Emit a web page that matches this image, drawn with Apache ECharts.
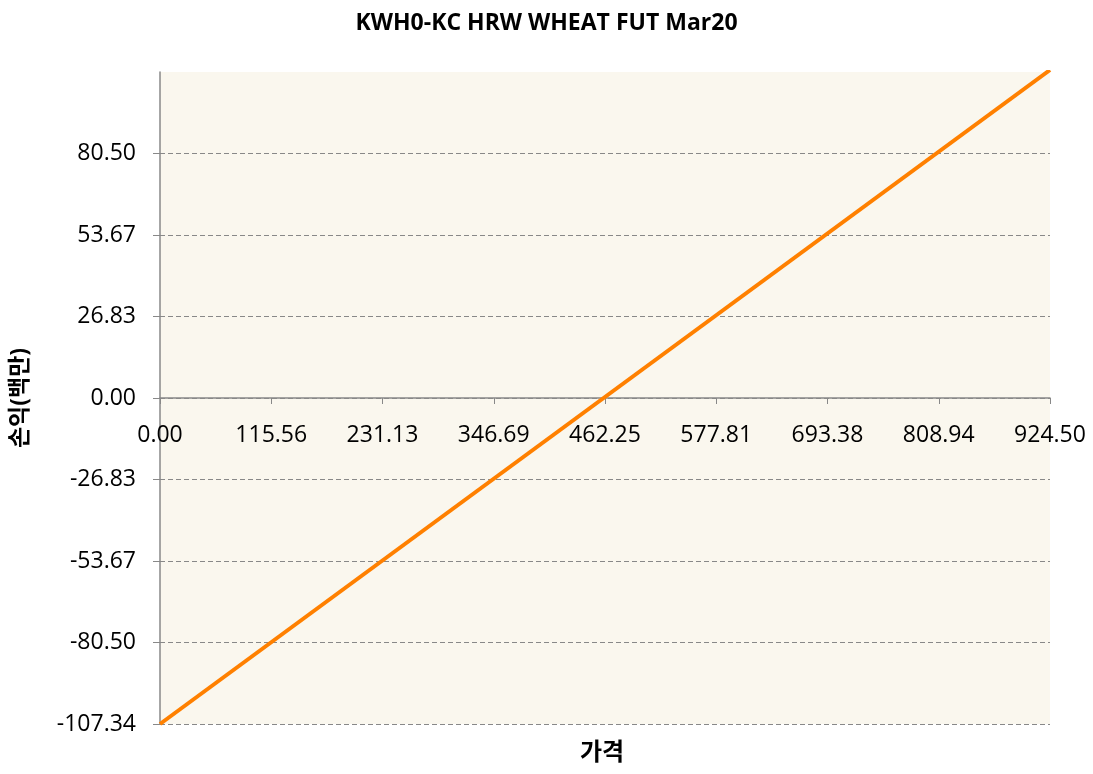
<!DOCTYPE html>
<html>
<head>
<meta charset="utf-8">
<script src="https://cdn.jsdelivr.net/npm/echarts@6/dist/echarts.min.js"></script>
<style>
  html, body { margin: 0; padding: 0; background: #ffffff; }
  #chart { width: 1093px; height: 774px; }
</style>
</head>
<body>
<div id="chart"></div>
<script>
// Profit/loss profile of a futures position over price
const titleText = 'KWH0-KC HRW WHEAT FUT Mar20';
const xName = '가격';
const yName = '손익(백만)';

// price range and tick labels
const xMin = 0, xMax = 924.5, xStep = 115.5625;
const xTickLabels = ['0.00', '115.56', '231.13', '346.69', '462.25', '577.81', '693.38', '808.94', '924.50'];

// P&L range and tick labels (millions)
const yMin = -107.34, yMax = 107.34, yStep = 26.835;
const yTickLabels = ['-107.34', '-80.50', '-53.67', '-26.83', '0.00', '26.83', '53.67', '80.50', ''];

// P&L line endpoints: price, P&L
const prices = [0, 924.5];
const pnl = [-107.34, 108.0];

const FONT = '"Open Sans", "Noto Sans CJK KR", sans-serif';
const GRID = { left: 160, right: 43, top: 72, bottom: 50 };
const plotHeight = 774 - GRID.top - GRID.bottom;
// shift the price axis up so it runs along P&L = 0
const zeroOffset = -plotHeight * (0 - yMin) / (yMax - yMin);

const chart = echarts.init(document.getElementById('chart'), null, { renderer: 'canvas' });

chart.setOption({
  animation: false,
  backgroundColor: '#ffffff',
  title: {
    text: titleText,
    left: 'center',
    top: 7,
    textStyle: { fontFamily: FONT, fontSize: 23, fontWeight: 'bold', color: '#000' }
  },
  grid: Object.assign({
    show: true, backgroundColor: '#FAF7EE', borderWidth: 0,
    containLabel: false, outerBoundsMode: 'none'
  }, GRID),
  xAxis: {
    type: 'value',
    position: 'bottom',
    offset: zeroOffset,
    min: xMin, max: xMax, interval: xStep,
    axisLine: { onZero: false, lineStyle: { color: '#888888', width: 1.5 } },
    axisTick: { show: true, length: 6, inside: false, lineStyle: { color: '#888888' } },
    splitLine: { show: false },
    axisLabel: {
      margin: 26,
      fontFamily: FONT, fontSize: 23, color: '#000',
      showMinLabel: true, showMaxLabel: true,
      formatter: v => xTickLabels[Math.round((v - xMin) / xStep)] ?? ''
    }
  },
  yAxis: {
    type: 'value',
    min: yMin, max: yMax, interval: yStep,
    name: yName,
    nameLocation: 'middle',
    nameGap: 128,
    nameTextStyle: { fontFamily: FONT, fontSize: 23, fontWeight: 'bold', color: '#000' },
    axisLine: { show: true, onZero: false, lineStyle: { color: '#888888', width: 1.5 } },
    axisTick: { show: true, length: 7, lineStyle: { color: '#888888' } },
    splitLine: { show: true, showMaxLine: false, lineStyle: { color: '#888888', type: [5, 3], width: 1 } },
    axisLabel: {
      margin: 24,
      fontFamily: FONT, fontSize: 23, color: '#000',
      showMaxLabel: false,
      formatter: v => yTickLabels[Math.round((v - yMin) / yStep)] ?? ''
    }
  },
  graphic: [{
    type: 'text',
    left: 580, top: 741,
    style: { text: xName, font: 'bold 24px ' + FONT, fill: '#000' }
  }],
  series: [{
    type: 'line',
    data: prices.map((p, i) => [p, pnl[i]]),
    showSymbol: false,
    clip: true,
    lineStyle: { color: '#FF8000', width: 4 }
  }]
});
</script>
</body>
</html>
